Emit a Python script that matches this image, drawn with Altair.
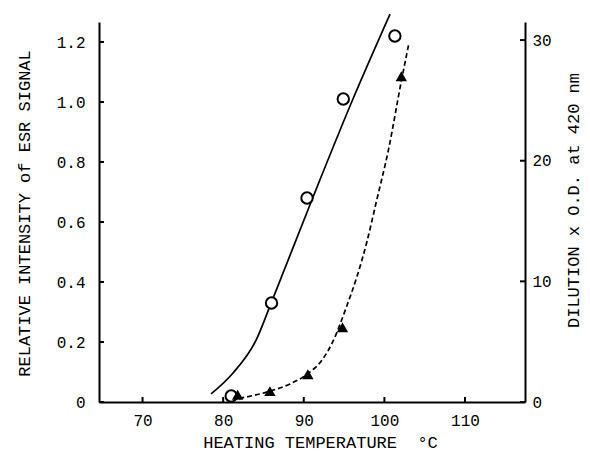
import altair as alt
import pandas as pd

# ESR signal (open circles, left axis)
circ_x = [81.0, 86.0, 90.4, 94.9, 101.3]
circ_y = [0.02, 0.33, 0.68, 1.01, 1.22]

# Dilution x O.D. (filled triangles, right axis)
tri_x = [81.8, 85.8, 90.5, 94.8, 102.1]
tri_y = [0.6, 0.9, 2.3, 6.2, 27.0]

# fitted solid curve (left axis)
solid_x = [78.5, 81.2, 84.1, 86.0, 91.1, 96.1, 100.7]
solid_y = [0.027, 0.096, 0.207, 0.333, 0.68, 1.01, 1.293]

# fitted dashed curve (right axis)
dash_x = [82.0, 85.8, 88.3, 90.5, 92.4, 93.6, 95.3, 96.6, 97.8, 99.0, 100.5, 102.1, 103.0]
dash_y = [0.3, 0.9, 1.5, 2.35, 3.6, 5.0, 7.9, 10.4, 13.2, 16.6, 20.9, 26.6, 29.6]

x_ticks = [70, 80, 90, 100, 110]
left_ticks = [0, 0.2, 0.4, 0.6, 0.8, 1.0, 1.2]
right_ticks = [0, 10, 20, 30]

W, H = 426, 380
FONT = "Liberation Mono"

x_dom = [64.6, 117.44]
yl_dom = [0, 1.2667]
yr_dom = [0, 31.5]

circ = pd.DataFrame({"x": circ_x, "y": circ_y})
tri = pd.DataFrame({"x": tri_x, "y": tri_y})
solid = pd.DataFrame({"x": solid_x, "y": solid_y, "o": range(len(solid_x))})
dash = pd.DataFrame({"x": dash_x, "y": dash_y, "o": range(len(dash_x))})
xt = pd.DataFrame({"x": x_ticks})
lt = pd.DataFrame({"y": left_ticks})
rt = pd.DataFrame({"y": right_ticks})

xscale = alt.Scale(domain=x_dom, nice=False, zero=False)
ylscale = alt.Scale(domain=yl_dom, nice=False, zero=False)
yrscale = alt.Scale(domain=yr_dom, nice=False, zero=False)

x_axis = alt.Axis(
    values=x_ticks, title="HEATING TEMPERATURE\u00a0\u00a0°C", ticks=False,
    labelPadding=10, titleX=221, titleY=40, titleBaseline="middle",
    titleAlign="center", grid=False,
)
yl_axis = alt.Axis(
    values=left_ticks, title="RELATIVE INTENSITY of ESR SIGNAL", ticks=False,
    labelPadding=14, orient="left", grid=False,
    labelExpr="datum.value == 0 ? '0' : format(datum.value, '.1f')",
    titleX=-75, titleY=191, titleAngle=270, titleBaseline="middle", titleAlign="center",
)
yr_axis = alt.Axis(
    values=right_ticks, title="DILUTION\u00a0x\u00a0O.D.\u00a0at\u00a0420\u00a0nm", ticks=False,
    labelPadding=7, orient="right", grid=False,
    titleX=48, titleY=178, titleAngle=270, titleBaseline="middle", titleAlign="center",
)

solid_line = alt.Chart(solid).mark_line(
    color="black", strokeWidth=1.7, interpolate="monotone"
).encode(
    x=alt.X("x:Q", scale=xscale, axis=x_axis),
    y=alt.Y("y:Q", scale=ylscale, axis=yl_axis),
    order="o:Q",
)
circles = alt.Chart(circ).mark_point(
    shape="circle", size=130, filled=True, fill="white", stroke="black",
    strokeWidth=2, opacity=1
).encode(
    x=alt.X("x:Q", scale=xscale),
    y=alt.Y("y:Q", scale=ylscale),
)
lticks = alt.Chart(lt).mark_rule(color="black", strokeWidth=2).encode(
    y=alt.Y("y:Q", scale=ylscale), x=alt.value(0), x2=alt.value(5)
)
bticks = alt.Chart(xt).mark_rule(color="black", strokeWidth=2).encode(
    x=alt.X("x:Q", scale=xscale), y=alt.value(H), y2=alt.value(H - 5)
)

dash_line = alt.Chart(dash).mark_line(
    color="black", strokeWidth=1.7, strokeDash=[5, 3], interpolate="monotone"
).encode(
    x=alt.X("x:Q", scale=xscale),
    y=alt.Y("y:Q", scale=yrscale, axis=yr_axis),
    order="o:Q",
)
tris = alt.Chart(tri).mark_point(
    shape="triangle-up", size=130, filled=True, color="black", opacity=1
).encode(
    x=alt.X("x:Q", scale=xscale),
    y=alt.Y("y:Q", scale=yrscale),
)
rticks = alt.Chart(rt).mark_rule(color="black", strokeWidth=2).encode(
    y=alt.Y("y:Q", scale=yrscale), x=alt.value(W - 5), x2=alt.value(W)
)

left = alt.layer(bticks, lticks, solid_line, circles)
right = alt.layer(rticks, dash_line, tris)

chart = alt.layer(left, right).resolve_scale(y="independent").properties(
    width=W, height=H,
    autosize=alt.AutoSizeParams(type="none"),
    padding={"left": 91, "top": 14, "right": 57, "bottom": 50},
    background="white",
).configure_view(stroke=None).configure_axis(
    domainColor="black", domainWidth=2, labelColor="black", titleColor="black",
    labelFont=FONT, titleFont=FONT, labelFontSize=16, titleFontSize=17,
    titleFontWeight="normal",
)

chart.save("out.html", embed_options={"renderer": "svg", "actions": False})
